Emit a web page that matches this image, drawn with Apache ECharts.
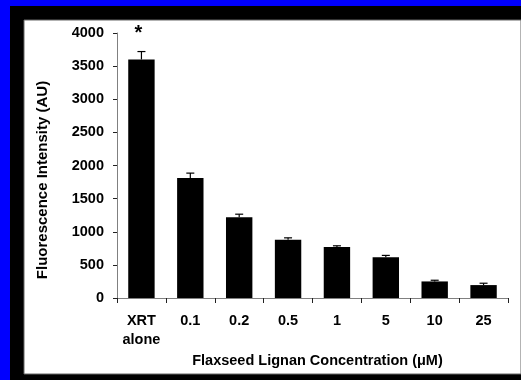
<!DOCTYPE html>
<html>
<head>
<meta charset="utf-8">
<script src="https://cdn.jsdelivr.net/npm/echarts@6/dist/echarts.min.js"></script>
<style>
  html, body { margin: 0; padding: 0; }
  #chart { width: 521px; height: 380px; }
</style>
</head>
<body>
<div id="chart"></div>
<script>
var categories = ['XRT\nalone', '0.1', '0.2', '0.5', '1', '5', '10', '25'];
var values = [3600, 1810, 1220, 880, 770, 615, 250, 195];
var errors = [120, 75, 45, 28, 18, 28, 18, 28];
var marks = ['*', '', '', '', '', '', '', ''];
var yTicks = [0, 4000, 500];

var chart = echarts.init(document.getElementById('chart'));

// bar items, with the significance mark as a label on top
var barData = values.map(function(v, i) {
  return {
    value: v,
    label: {
      show: marks[i] !== '',
      formatter: marks[i],
      position: 'top',
      distance: 16,
      offset: [-3, 0],
      fontSize: 20,
      fontWeight: 'bold',
      color: '#000',
      fontFamily: 'Liberation Sans'
    }
  };
});

var errData = values.map(function(v, i) {
  return [i, v, v + errors[i]];
});

chart.setOption({
  backgroundColor: '#0000ff',
  animation: false,
  textStyle: { fontFamily: 'Liberation Sans' },
  graphic: [
    { type: 'rect', shape: { x: 10, y: 6, width: 511, height: 374 }, style: { fill: '#000' }, z: -10 },
    { type: 'rect', shape: { x: 24, y: 20, width: 497, height: 354 }, style: { fill: '#fff', stroke: '#666', lineWidth: 1 }, z: -9 }
  ],
  grid: { left: 117, right: 13, top: 33, bottom: 82 },
  xAxis: {
    type: 'category',
    data: categories,
    name: 'Flaxseed Lignan Concentration (\u03bcM)',
    nameLocation: 'middle',
    nameGap: 55,
    nameTextStyle: { fontSize: 14.5, fontWeight: 'bold', color: '#000', padding: [0, 0, 0, 10] },
    axisLine: { lineStyle: { color: '#808080', width: 1 } },
    axisTick: { show: true, alignWithLabel: false, length: 5, lineStyle: { color: '#222' } },
    axisLabel: { fontSize: 14.5, fontWeight: 'bold', color: '#000', margin: 13, lineHeight: 19, interval: 0 }
  },
  yAxis: {
    type: 'value',
    min: yTicks[0],
    max: yTicks[1],
    interval: yTicks[2],
    name: 'Fluorescence Intensity (AU)',
    nameLocation: 'middle',
    nameGap: 67,
    nameTextStyle: { fontSize: 15, fontWeight: 'bold', color: '#000', padding: [0, 29, 0, 0] },
    axisLine: { show: true, lineStyle: { color: '#808080', width: 1 } },
    axisTick: { show: true, length: 4, lineStyle: { color: '#222' } },
    axisLabel: {
      fontSize: 14.5, fontWeight: 'bold', color: '#000', margin: 13,
      formatter: function(v) { return String(v); }
    },
    splitLine: { show: false }
  },
  series: [
    {
      type: 'bar',
      data: barData,
      barWidth: '54%',
      itemStyle: { color: '#000' }
    },
    {
      type: 'custom',
      data: errData,
      z: 3,
      renderItem: function(params, api) {
        var x = api.value(0);
        var lo = api.coord([x, api.value(1)]);
        var hi = api.coord([x, api.value(2)]);
        var cap = 4;
        return {
          type: 'group',
          children: [
            { type: 'line', shape: { x1: lo[0], y1: lo[1], x2: hi[0], y2: hi[1] }, style: { stroke: '#000', lineWidth: 1.2 } },
            { type: 'line', shape: { x1: hi[0] - cap, y1: hi[1], x2: hi[0] + cap, y2: hi[1] }, style: { stroke: '#000', lineWidth: 1.2 } }
          ]
        };
      }
    }
  ]
});
</script>
</body>
</html>
